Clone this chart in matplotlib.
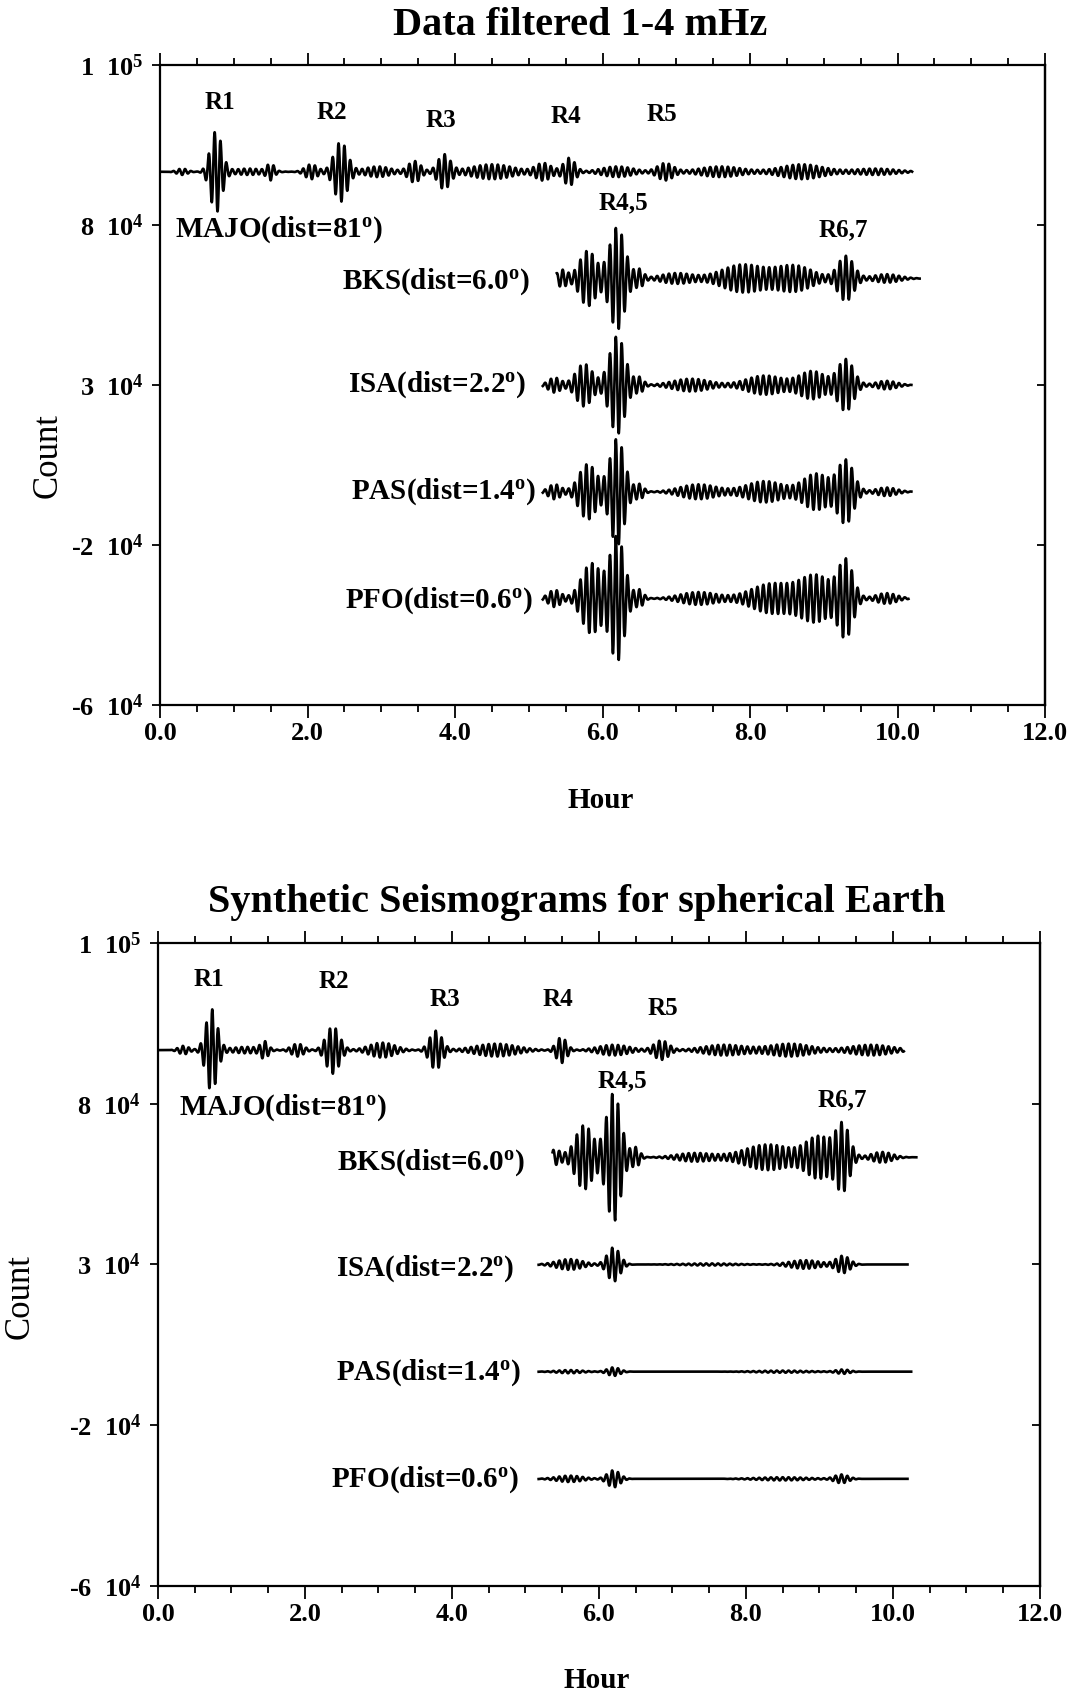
import numpy as np
import matplotlib.pyplot as plt
from matplotlib.ticker import MultipleLocator

plt.rcParams['font.family'] = 'Liberation Serif'
plt.rcParams['font.weight'] = 'bold'
plt.rcParams['mathtext.fontset'] = 'custom'
plt.rcParams['mathtext.rm'] = 'Liberation Serif:bold'
plt.rcParams['mathtext.it'] = 'Liberation Serif:bold'
plt.rcParams['mathtext.bf'] = 'Liberation Serif:bold'

# ---- axis text ----
ytick_pos = [0, 1.5, 3, 4.5, 6]
ytick_labels = ['-6  10$^{4}$', '-2  10$^{4}$', '3  10$^{4}$', '8  10$^{4}$', '1  10$^{5}$']
xticks = [0, 2, 4, 6, 8, 10, 12]
stations = ['PFO(dist=0.6$^{o}$)', 'PAS(dist=1.4$^{o}$)', 'ISA(dist=2.2$^{o}$)',
            'BKS(dist=6.0$^{o}$)', 'MAJO(dist=81$^{o}$)']
offsets = [1, 2, 3, 4, 5]   # trace baselines, trace spacing = 1

# ---- wave packets: (centre hour, amplitude, half width hour) ----
# top panel, observed data
obs_majo = [(0.30, 0.03, 0.10), (0.76, 0.38, 0.11), (1.20, 0.03, 0.30), (1.50, 0.07, 0.07),
            (2.05, 0.07, 0.12), (2.45, 0.28, 0.13), (2.95, 0.05, 0.25), (3.45, 0.10, 0.12),
            (3.85, 0.16, 0.12), (4.50, 0.07, 0.40), (5.20, 0.08, 0.15), (5.55, 0.13, 0.11),
            (6.20, 0.05, 0.30), (6.85, 0.08, 0.15), (7.60, 0.05, 0.40), (8.70, 0.07, 0.40),
            (9.70, 0.03, 0.40)]
obs_bks = [(5.45, 0.08, 0.10), (5.80, 0.26, 0.16), (6.20, 0.48, 0.15), (6.50, 0.08, 0.08),
           (7.00, 0.05, 0.30), (7.90, 0.13, 0.40), (8.60, 0.12, 0.35), (9.30, 0.21, 0.15),
           (9.85, 0.04, 0.25)]
obs_isa = [(5.35, 0.07, 0.12), (5.75, 0.20, 0.16), (6.20, 0.46, 0.15), (6.50, 0.07, 0.08),
           (7.20, 0.06, 0.35), (8.20, 0.09, 0.35), (8.85, 0.13, 0.25), (9.30, 0.24, 0.15),
           (9.85, 0.04, 0.20)]
obs_pas = [(5.35, 0.07, 0.12), (5.80, 0.26, 0.17), (6.20, 0.50, 0.14), (6.50, 0.07, 0.08),
           (7.30, 0.07, 0.35), (8.20, 0.10, 0.35), (8.90, 0.17, 0.25), (9.30, 0.29, 0.15),
           (9.85, 0.04, 0.20)]
obs_pfo = [(5.35, 0.08, 0.12), (5.85, 0.33, 0.19), (6.20, 0.58, 0.14), (6.50, 0.08, 0.08),
           (7.30, 0.06, 0.35), (8.30, 0.14, 0.40), (8.90, 0.21, 0.30), (9.30, 0.34, 0.14),
           (9.85, 0.05, 0.20)]
# bottom panel, synthetics
syn_majo = [(0.35, 0.04, 0.10), (0.73, 0.38, 0.11), (1.20, 0.03, 0.30), (1.45, 0.07, 0.07),
            (1.90, 0.06, 0.12), (2.38, 0.22, 0.13), (3.05, 0.07, 0.25), (3.78, 0.18, 0.12),
            (4.60, 0.06, 0.40), (5.49, 0.12, 0.10), (6.20, 0.05, 0.30), (6.85, 0.09, 0.14),
            (7.70, 0.05, 0.40), (8.60, 0.06, 0.40), (9.70, 0.05, 0.40)]
syn_bks = [(5.40, 0.07, 0.12), (5.80, 0.30, 0.17), (6.20, 0.60, 0.14), (6.50, 0.09, 0.08),
           (7.30, 0.04, 0.35), (8.30, 0.12, 0.45), (9.00, 0.19, 0.25), (9.32, 0.29, 0.13),
           (9.85, 0.05, 0.20)]
syn_isa = [(5.60, 0.05, 0.25), (6.20, 0.16, 0.12), (7.50, 0.01, 0.50), (8.80, 0.04, 0.30),
           (9.32, 0.08, 0.13)]
syn_pas = [(5.60, 0.015, 0.25), (6.20, 0.04, 0.12), (8.50, 0.01, 0.50), (9.32, 0.02, 0.13)]
syn_pfo = [(5.60, 0.03, 0.25), (6.20, 0.08, 0.12), (8.50, 0.015, 0.50), (9.30, 0.04, 0.13)]

obs_packets = [obs_pfo, obs_pas, obs_isa, obs_bks, obs_majo]
syn_packets = [syn_pfo, syn_pas, syn_isa, syn_bks, syn_majo]
obs_start = [5.19, 5.19, 5.19, 5.38, 0.0]
obs_end = [10.15, 10.19, 10.19, 10.30, 10.20]
syn_start = [5.18, 5.18, 5.18, 5.37, 0.0]
syn_end = [10.20, 10.25, 10.20, 10.32, 10.15]
period = 0.08   # hours

# phase labels: (text, hour, y)
obs_phases = [('R1', 0.81, 5.65), ('R2', 2.33, 5.56), ('R3', 3.81, 5.48), ('R4', 5.50, 5.52),
              ('R5', 6.81, 5.54), ('R4,5', 6.28, 4.71), ('R6,7', 9.27, 4.46)]
syn_phases = [('R1', 0.69, 5.66), ('R2', 2.40, 5.64), ('R3', 3.90, 5.47), ('R4', 5.44, 5.47),
              ('R5', 6.87, 5.39), ('R4,5', 6.32, 4.71), ('R6,7', 9.31, 4.54)]
# station label anchors: (hour, y); MAJO is left aligned, others right aligned
obs_label_pos = [(5.05, 0.98), (5.09, 2.0), (4.97, 3.0), (5.02, 3.97), (0.205, 4.46)]
syn_label_pos = [(4.91, 0.99), (4.93, 1.99), (4.85, 2.96), (4.99, 3.95), (0.29, 4.46)]


def trace(packets, t0, t1, base):
    t = np.arange(t0, t1, 0.002)
    env = np.zeros_like(t)
    for c, a, w in packets:
        env += a * np.exp(-((t - c) / w) ** 2)
    return t, base + env * np.sin(2 * np.pi * t / period)


def panel(ax, title, packets, starts, ends, phases, label_pos, count_xy, hour_xy):
    for i in range(5):
        t, y = trace(packets[i], starts[i], ends[i], offsets[i])
        ax.plot(t, y, color='black', lw=1.9)
        hx, hy = label_pos[i]
        ha = 'left' if i == 4 else 'right'
        ax.text(hx, hy, stations[i], ha=ha, va='center', fontsize=21)
    for txt, hx, hy in phases:
        ax.text(hx, hy, txt, ha='center', va='center', fontsize=18)

    ax.set_xlim(0, 12)
    ax.set_ylim(0, 6)
    ax.set_xticks(xticks)
    ax.set_xticklabels(['%.1f' % v for v in xticks], fontsize=19)
    ax.xaxis.set_minor_locator(MultipleLocator(0.5))
    ax.set_yticks(ytick_pos)
    ax.set_yticklabels(ytick_labels, fontsize=19)
    ax.tick_params(axis='x', which='both', top=True, direction='out', width=1.3)
    ax.tick_params(axis='x', which='major', length=9, pad=3)
    ax.tick_params(axis='x', which='minor', length=5)
    ax.tick_params(axis='y', which='major', length=6, width=1.3, pad=6)
    sec = ax.secondary_yaxis('right')
    sec.set_yticks(ytick_pos)
    sec.set_yticklabels([])
    sec.tick_params(direction='in', length=6, width=1.3)
    for s in ax.spines.values():
        s.set_linewidth(1.6)
    sec.spines['right'].set_linewidth(1.6)

    ax.set_ylabel('Count', fontsize=25, fontweight='normal')
    ax.yaxis.set_label_coords(*count_xy)
    ax.set_xlabel('Hour', fontsize=21, fontweight='bold')
    ax.xaxis.set_label_coords(*hour_xy)
    ax.set_title(title, fontsize=29, fontweight='bold', pad=22, x=0.475)


fig = plt.figure(figsize=(10.77, 16.95), dpi=100)
ax1 = fig.add_axes([0.1486, 0.584, 0.8217, 0.3776])
ax2 = fig.add_axes([0.1466, 0.0643, 0.819, 0.3794])

panel(ax1, 'Data filtered 1-4 mHz', obs_packets, obs_start, obs_end,
      obs_phases, obs_label_pos, (-0.108, 0.39), (0.498, -0.128))
panel(ax2, 'Synthetic Seismograms for spherical Earth', syn_packets, syn_start, syn_end,
      syn_phases, syn_label_pos, (-0.137, 0.45), (0.497, -0.126))

fig.savefig('out.png', dpi=100)
